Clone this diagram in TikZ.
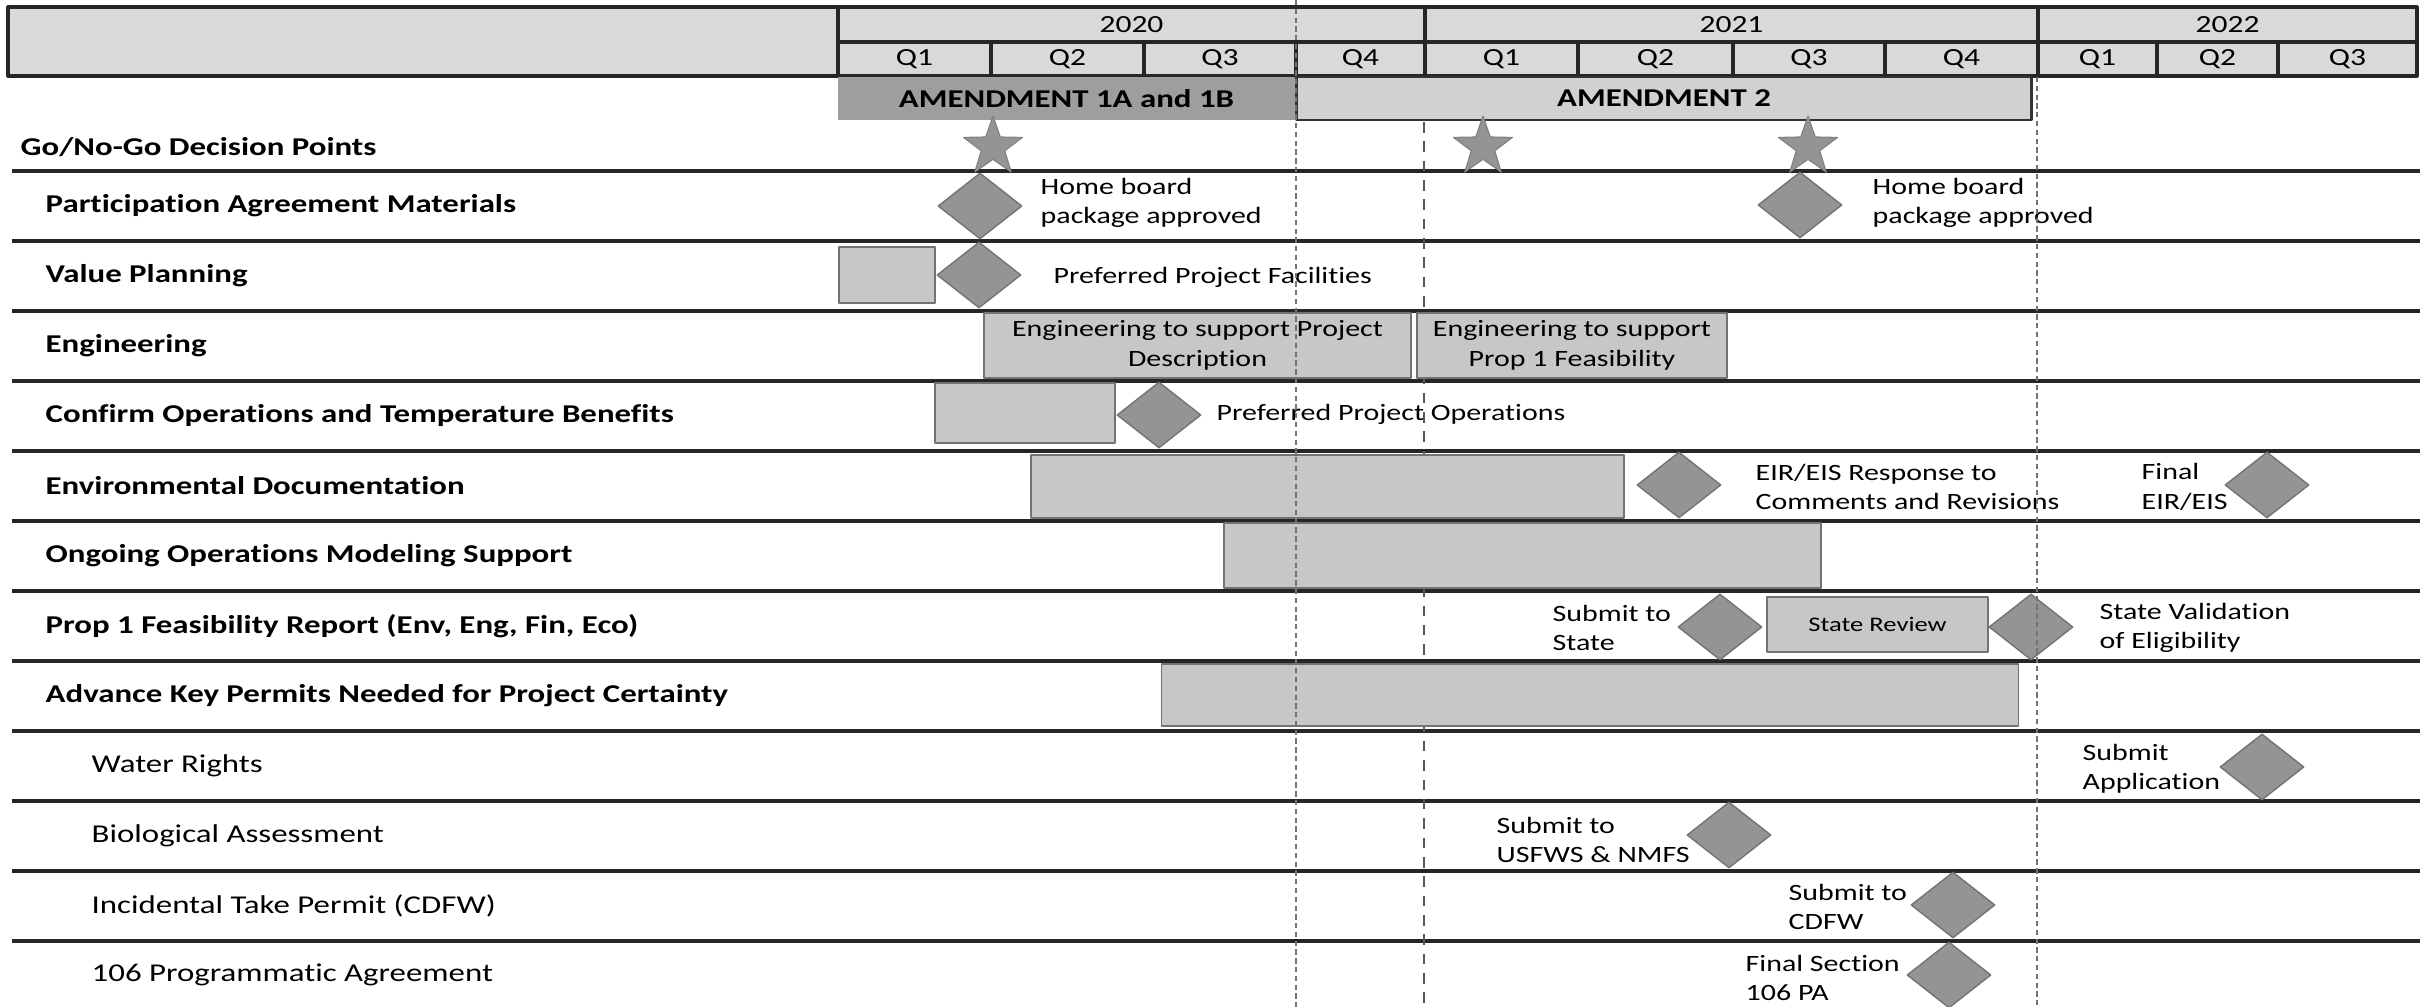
\documentclass[tikz,border=0pt]{standalone}
\usepackage{fontspec}
\setmainfont{Carlito}[FakeStretch=1.28,Ligatures=NoCommon]
\usetikzlibrary{shapes.geometric}
\definecolor{hdrgray}{gray}{0.85}
\definecolor{barfill}{gray}{0.78}
\definecolor{markgray}{gray}{0.58}
\definecolor{amendA}{gray}{0.62}
\definecolor{amendB}{gray}{0.82}
\begin{document}
\begin{tikzpicture}[x=0.01cm,y=-0.01cm,line join=round,font=\fontsize{6.65}{8.4}\selectfont]
	\tikzset{
		rowline/.style={line width=1.1pt,black!85},
		hdrcell/.style={draw=black!85,line width=0.9pt,fill=hdrgray},
		hdrtext/.style={inner sep=0pt,font=\fontsize{7}{8}\selectfont},
		amend/.style={rectangle,inner sep=0pt,minimum height=0.43cm,font=\fontsize{7.3}{9}\selectfont\bfseries},
		rowlab/.style={anchor=west,inner sep=0pt,font=\fontsize{7.3}{9}\selectfont\bfseries},
		sublab/.style={anchor=west,inner sep=0pt,font=\fontsize{7.3}{9}\selectfont},
		bar/.style={rectangle,draw=black!55,line width=0.4pt,fill=barfill,inner sep=0pt,align=center},
		milestone/.style={diamond,minimum width=0.84cm,minimum height=0.66cm,inner sep=0pt,fill=markgray,draw=black!55,line width=0.4pt},
		gostar/.style={star,star points=5,star point ratio=2.5,minimum size=0.62cm,inner sep=0pt,fill=markgray,draw=black!50,line width=0.3pt},
		note/.style={anchor=west,inner sep=0pt,align=left},
		guide/.style={black!55,line width=0.6pt,dash pattern=on 1.5pt off 1pt},
		guidedash/.style={black!65,line width=0.6pt,dash pattern=on 3pt off 2.5pt}
	}
	\useasboundingbox (0,0) rectangle (2420,1007);
	% header: years and quarters
	\draw[hdrcell] (8,7) rectangle (838,76);
	\foreach \xa/\xb/\yr in {838/1425/2020,1425/2038/2021,2038/2417/2022}{
		\draw[hdrcell] (\xa,7) rectangle (\xb,42);
		\node[hdrtext] (y\yr) at ({(\xa+\xb)/2},25) {\yr};
	}
	\foreach \xa/\xb/\q/\nm in {838/991/Q1/a1,991/1144/Q2/a2,1144/1296/Q3/a3,1296/1425/Q4/a4,
		1425/1578/Q1/b1,1578/1733/Q2/b2,1733/1885/Q3/b3,1885/2038/Q4/b4,
		2038/2157/Q1/c1,2157/2278/Q2/c2,2278/2417/Q3/c3}{
		\draw[hdrcell] (\xa,42) rectangle (\xb,76);
		\node[hdrtext] (q\nm) at ({(\xa+\xb)/2},59) {\q};
	}
	% amendments
	\node[amend,fill=amendA,minimum width=4.57cm] (amA) at (1066.5,98.5) {AMENDMENT 1A and 1B};
	\node[amend,fill=amendB,draw=black!80,line width=0.8pt,minimum width=7.34cm] (amB) at (1664,98.5) {AMENDMENT 2};
	% row lines and labels
	\foreach \y in {171,241,...,941}
		\draw[rowline] (12,\y) -- (2420,\y);
	\node[rowlab,anchor=west] (gonogo) at (20,147) {Go/No-Go Decision Points};
	\foreach \y/\nm/\lab in {206/pam/Participation Agreement Materials,276/vp/Value Planning,
		346/eng/Engineering,416/cop/Confirm Operations and Temperature Benefits,
		486/env/Environmental Documentation,556/oom/Ongoing Operations Modeling Support,
		626/prop/{Prop 1 Feasibility Report (Env, Eng, Fin, Eco)},
		696/akp/Advance Key Permits Needed for Project Certainty}
		\node[rowlab] (\nm) at (45,\y) {\lab};
	\foreach \y/\nm/\lab in {766/wr/Water Rights,836/ba/Biological Assessment,
		906/itp/Incidental Take Permit (CDFW),975/pa/106 Programmatic Agreement}
		\node[sublab] (\nm) at (91,\y) {\lab};
	% dashed guide (under the bars)
	\draw[guidedash] (1424,122) -- (1424,1007);
	% bars
	\node[bar,minimum width=0.96cm,minimum height=0.56cm] (vpbar) at (887,275) {};
	\node[bar,minimum width=4.27cm,minimum height=0.65cm] (engA) at (1197.5,345.5) {Engineering to support Project\\Description};
	\node[bar,minimum width=3.10cm,minimum height=0.65cm] (engB) at (1572,345.5) {Engineering to support\\Prop 1 Feasibility};
	\node[bar,minimum width=1.80cm,minimum height=0.60cm] (copbar) at (1025,413) {};
	\node[bar,minimum width=5.93cm,minimum height=0.63cm] (envbar) at (1327.5,486.5) {};
	\node[bar,minimum width=5.97cm,minimum height=0.65cm] (oombar) at (1522.5,555.5) {};
	\node[bar,minimum width=2.21cm,minimum height=0.55cm,font=\fontsize{5.9}{7}\selectfont] (review) at (1877.5,624.5) {State Review};
	\node[bar,minimum width=8.56cm,minimum height=0.62cm] (akpbar) at (1590,695) {};
	% go/no-go stars
	\foreach \x/\nm in {993/sA,1483/sB,1808/sC}
		\node[gostar] (\nm) at (\x,147) {};
	% milestones
	\foreach \x/\y/\nm in {980/206/mpaA,1800/205/mpaB,979/275/mvp,1159/415/mcop,1679/485/menvA,
		2267/485/menvB,1720/627/mpropA,2031/627/mpropB,2262/767/mwr,1729/835/mba,1953/905/mitp,1949/975/mpa}
		\node[milestone] (\nm) at (\x,\y) {};
	% milestone texts
	\node[note] (tpaA) at (1040,203) {Home board\\package approved};
	\node[note] (tpaB) at (1872,203) {Home board\\package approved};
	\node[note] (tvp) at (1053,277) {Preferred Project Facilities};
	\node[note] (tcop) at (1216,414) {Preferred Project Operations};
	\node[note] (tenvA) at (1755,487) {EIR/EIS Response to\\Comments and Revisions};
	\node[note] (tenvB) at (2141,487) {Final\\EIR/EIS};
	\node[note] (tpropA) at (1552,628) {Submit to\\State};
	\node[note] (tpropB) at (2099,628) {State Validation\\of Eligibility};
	\node[note] (twr) at (2082,769) {Submit\\Application};
	\node[note] (tba) at (1496,840) {Submit to\\USFWS \& NMFS};
	\node[note] (titp) at (1788,907) {Submit to\\CDFW};
	\node[note] (tpa) at (1745,978) {Final Section\\106 PA};
	% dotted guides (over the bars)
	\draw[guide] (1296,0) -- (1296,1007);
	\draw[guide] (2037,77) -- (2037,1007);
\end{tikzpicture}
\end{document}
